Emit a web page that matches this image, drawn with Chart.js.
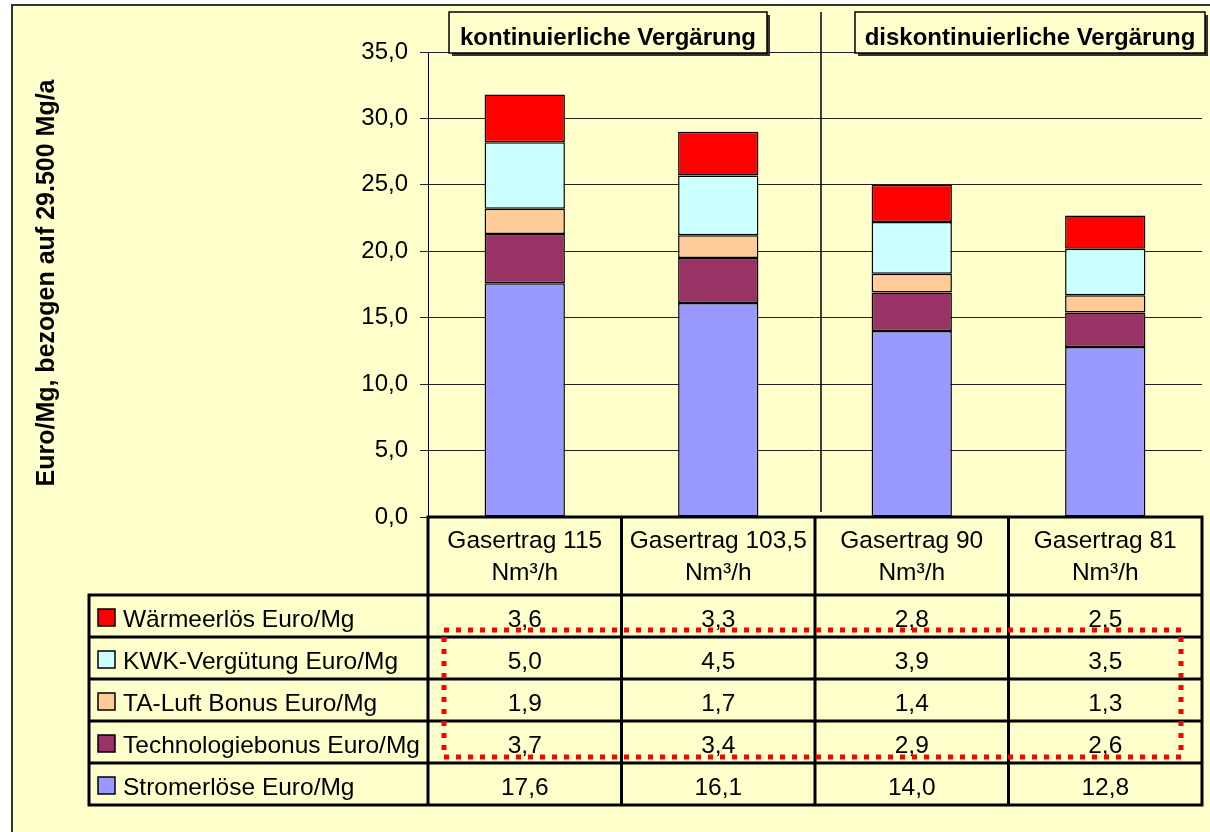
<!DOCTYPE html>
<html>
<head>
<meta charset="utf-8">
<script src="https://cdn.jsdelivr.net/npm/chart.js@4.4.0/dist/chart.umd.min.js"></script>
<style>
  html, body { margin: 0; padding: 0; background: #fff; }
  canvas { display: block; }
</style>
</head>
<body>
<canvas id="chart" width="1210" height="832"></canvas>
<script>
const categories = [
  ['Gasertrag 115', 'Nm³/h'],
  ['Gasertrag 103,5', 'Nm³/h'],
  ['Gasertrag 90', 'Nm³/h'],
  ['Gasertrag 81', 'Nm³/h']
];
const stromerloese = [17.6, 16.1, 14.0, 12.8];
const technologiebonus = [3.7, 3.4, 2.9, 2.6];
const taLuftBonus = [1.9, 1.7, 1.4, 1.3];
const kwkVerguetung = [5.0, 4.5, 3.9, 3.5];
const waermeerloes = [3.6, 3.3, 2.8, 2.5];
const groupLabels = ['kontinuierliche Vergärung', 'diskontinuierliche Vergärung'];
const yTitle = 'Euro/Mg, bezogen auf 29.500 Mg/a';
const yMin = 0, yMax = 35, yStep = 5;

const FONT = '"Liberation Sans", Arial, sans-serif';
const BG = '#FFFFCC';

function fmt(v) {
  return v.toFixed(1).replace('.', ',');
}

// background, frame, axis title, group boxes
const decorPlugin = {
  id: 'decor',
  beforeDraw(chart) {
    const ctx = chart.ctx;
    ctx.save();
    ctx.fillStyle = '#fff';
    ctx.fillRect(0, 0, chart.width, chart.height);
    ctx.fillStyle = BG;
    ctx.fillRect(12, 5, chart.width, chart.height);
    ctx.strokeStyle = '#333';
    ctx.lineWidth = 2;
    ctx.strokeRect(12, 5, chart.width + 10, chart.height + 10);

    ctx.translate(47, 283);
    ctx.rotate(-Math.PI / 2);
    ctx.fillStyle = '#000';
    ctx.font = 'bold 25px ' + FONT;
    ctx.textAlign = 'center';
    ctx.textBaseline = 'middle';
    ctx.fillText(yTitle, 0, 0);
    ctx.restore();
  },
  afterDraw(chart) {
    const ctx = chart.ctx;
    ctx.save();
    // separator between the two groups
    ctx.strokeStyle = '#000';
    ctx.lineWidth = 1.5;
    ctx.beginPath();
    ctx.moveTo(821, 12);
    ctx.lineTo(821, 512);
    ctx.stroke();

    const boxes = [[449, 767], [855, 1205]];
    ctx.font = 'bold 24px ' + FONT;
    ctx.textAlign = 'center';
    ctx.textBaseline = 'alphabetic';
    boxes.forEach((b, i) => {
      const x = b[0], w = b[1] - b[0], y = 12, h = 41;
      ctx.fillStyle = '#333';
      ctx.fillRect(x + 3, y + 3, w, h);
      ctx.fillStyle = BG;
      ctx.fillRect(x, y, w, h);
      ctx.strokeStyle = '#000';
      ctx.lineWidth = 1.5;
      ctx.strokeRect(x, y, w, h);
      ctx.fillStyle = '#000';
      ctx.fillText(groupLabels[i], x + w / 2, 45);
    });
    ctx.restore();
  }
};

// Excel style data table under the plot
const tablePlugin = {
  id: 'dataTable',
  afterDraw(chart) {
    const ctx = chart.ctx;
    const xs = chart.scales.x;
    const area = chart.chartArea;
    const n = chart.data.labels.length;
    const half = (area.right - area.left) / n / 2;
    const top = area.bottom;
    const headH = 78, rowH = 42;
    const legendLeft = 89;
    const rows = chart.data.datasets.slice().reverse();
    const bottom = top + headH + rowH * rows.length;

    ctx.save();
    ctx.fillStyle = '#000';
    ctx.font = '24.5px ' + FONT;
    ctx.textAlign = 'center';
    ctx.textBaseline = 'alphabetic';

    // header: category labels
    chart.data.labels.forEach((lab, i) => {
      const cx = xs.getPixelForValue(i);
      ctx.fillText(lab[0], cx, top + 31);
      ctx.fillText(lab[1], cx, top + 63);
    });

    // rows
    rows.forEach((ds, r) => {
      const y0 = top + headH + r * rowH;
      const mid = y0 + rowH / 2;
      ctx.fillStyle = ds.backgroundColor;
      ctx.fillRect(98, mid - 7, 17, 17);
      ctx.strokeStyle = '#000';
      ctx.lineWidth = 1.5;
      ctx.strokeRect(98, mid - 7, 17, 17);
      ctx.fillStyle = '#000';
      ctx.textAlign = 'left';
      ctx.fillText(ds.label, 123, mid + 10.5);
      ctx.textAlign = 'center';
      ds.data.forEach((v, i) => {
        ctx.fillText(fmt(v), xs.getPixelForValue(i), mid + 10.5);
      });
    });

    // grid lines
    ctx.strokeStyle = '#000';
    ctx.lineWidth = 3;
    ctx.lineCap = 'square';
    ctx.beginPath();
    ctx.moveTo(area.left, top);
    ctx.lineTo(area.right, top);
    for (let r = 0; r <= rows.length; r++) {
      const y = top + headH + r * rowH;
      ctx.moveTo(legendLeft, y);
      ctx.lineTo(area.right, y);
    }
    ctx.moveTo(legendLeft, top + headH);
    ctx.lineTo(legendLeft, bottom);
    for (let i = 0; i <= n; i++) {
      const x = area.left + i * half * 2;
      ctx.moveTo(x, top);
      ctx.lineTo(x, bottom);
    }
    ctx.stroke();

    // red dotted frame around the bonus rows
    const fTop = top + headH + rowH - 7;
    const fBottom = top + headH + rowH * 4 - 6;
    ctx.strokeStyle = '#FF0000';
    ctx.lineWidth = 5;
    ctx.lineCap = 'butt';
    ctx.setLineDash([5, 7]);
    ctx.strokeRect(area.left + 16, fTop, (area.right - 21) - (area.left + 16), fBottom - fTop);
    ctx.restore();
  }
};

const ctx = document.getElementById('chart').getContext('2d');
new Chart(ctx, {
  type: 'bar',
  data: {
    labels: categories,
    datasets: [
      { label: 'Stromerlöse Euro/Mg', data: stromerloese, backgroundColor: '#9999FF' },
      { label: 'Technologiebonus Euro/Mg', data: technologiebonus, backgroundColor: '#993366' },
      { label: 'TA-Luft Bonus Euro/Mg', data: taLuftBonus, backgroundColor: '#FFCC99' },
      { label: 'KWK-Vergütung Euro/Mg', data: kwkVerguetung, backgroundColor: '#CCFFFF' },
      { label: 'Wärmeerlös Euro/Mg', data: waermeerloes, backgroundColor: '#FF0000' }
    ].map(d => Object.assign(d, {
      borderColor: '#000',
      borderWidth: 1.5,
      borderSkipped: false,
      categoryPercentage: 1,
      barPercentage: 0.415
    }))
  },
  options: {
    responsive: false,
    animation: false,
    devicePixelRatio: 1,
    layout: { padding: { left: 12, top: 52, right: 8, bottom: 315 } },
    plugins: {
      legend: { display: false },
      tooltip: { enabled: false }
    },
    scales: {
      x: { stacked: true, display: false },
      y: {
        stacked: true,
        min: yMin,
        max: yMax,
        afterFit(scale) { scale.width = 416; },
        ticks: {
          stepSize: yStep,
          padding: 12,
          color: '#000',
          font: { family: FONT, size: 24 },
          callback: v => fmt(v)
        },
        grid: {
          color: '#222',
          lineWidth: 1,
          drawTicks: true,
          tickLength: 8
        },
        border: { display: true, color: '#000', width: 1 }
      }
    }
  },
  plugins: [decorPlugin, tablePlugin]
});
</script>
</body>
</html>
